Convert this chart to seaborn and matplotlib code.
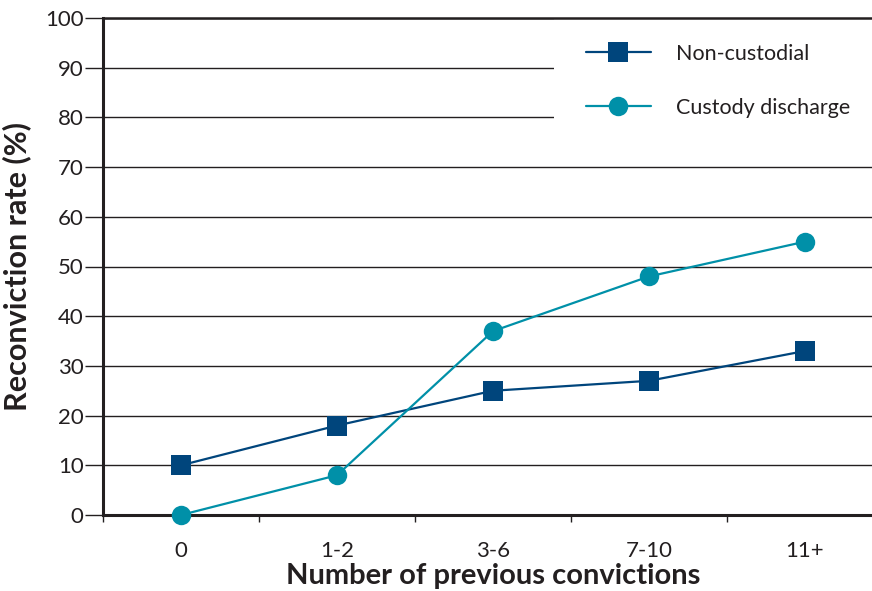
import matplotlib
matplotlib.use("Agg")
import matplotlib.pyplot as plt
import seaborn as sns
import pandas as pd

# data
categories = ["0", "1-2", "3-6", "7-10", "11+"]
non_custodial = [10, 18, 25, 27, 33]
custody_discharge = [0, 8, 37, 48, 55]

series_names = ["Non-custodial", "Custody discharge"]
series_colors = ["#00457c", "#0090a8"]
series_markers = ["s", "o"]

df = pd.DataFrame({
    "pos": list(range(len(categories))) * 2,
    "rate": non_custodial + custody_discharge,
    "series": [series_names[0]] * len(categories) + [series_names[1]] * len(categories),
})

sns.set_style("white")
plt.rcParams["font.family"] = ["Lato", "DejaVu Sans"]
text_col = "#231f20"

fig = plt.figure(figsize=(8.72, 5.91), dpi=100)
ax = fig.add_axes([103 / 872, 76 / 591, 780 / 872, 497 / 591])

sns.lineplot(
    data=df, x="pos", y="rate", hue="series", style="series",
    hue_order=series_names, style_order=series_names,
    palette=series_colors, markers=series_markers, dashes=False,
    markersize=14, linewidth=1.6, markeredgewidth=0, ax=ax,
    clip_on=False, zorder=4,
)

ax.set_xlim(-0.5, len(categories) - 0.5)
ax.set_ylim(0, 100)
ax.set_yticks(range(0, 101, 10))
ax.set_xticks(range(len(categories)))
ax.set_xticklabels(categories)
ax.set_xticks([i - 0.5 for i in range(len(categories) + 1)], minor=True)

ax.grid(axis="y", color="#231f20", linewidth=1.0)
ax.set_axisbelow(True)

ax.spines["right"].set_visible(False)
ax.spines["top"].set_color(text_col)
ax.spines["top"].set_linewidth(1.8)
ax.spines["top"].set_zorder(6)
ax.spines["left"].set_color(text_col)
ax.spines["left"].set_linewidth(2.2)
ax.spines["bottom"].set_color(text_col)
ax.spines["bottom"].set_linewidth(2.2)

ax.tick_params(axis="y", which="major", direction="out", length=13, width=1,
               color=text_col, labelsize=16, labelcolor=text_col, pad=1, left=True)
ax.tick_params(axis="x", which="major", length=0, labelsize=16,
               labelcolor=text_col, pad=19)
ax.tick_params(axis="x", which="minor", direction="out", length=5, width=1,
               color=text_col, bottom=True)

ax.set_xlabel("Number of previous convictions", fontsize=21, fontweight="bold",
              color=text_col, labelpad=1)
ax.set_ylabel("Reconviction rate (%)", fontsize=22, fontweight="bold",
              color=text_col, labelpad=10)

leg = ax.legend(
    loc="upper right", bbox_to_anchor=(1.0, 1.013), fontsize=15.5,
    handlelength=3.0, handletextpad=1.2, labelspacing=1.58, borderpad=1.5,
    borderaxespad=0, frameon=True, fancybox=False, framealpha=1,
)
leg.get_frame().set_facecolor("white")
leg.get_frame().set_linewidth(0)
for t in leg.get_texts():
    t.set_color(text_col)

fig.savefig("out.png", dpi=100)
